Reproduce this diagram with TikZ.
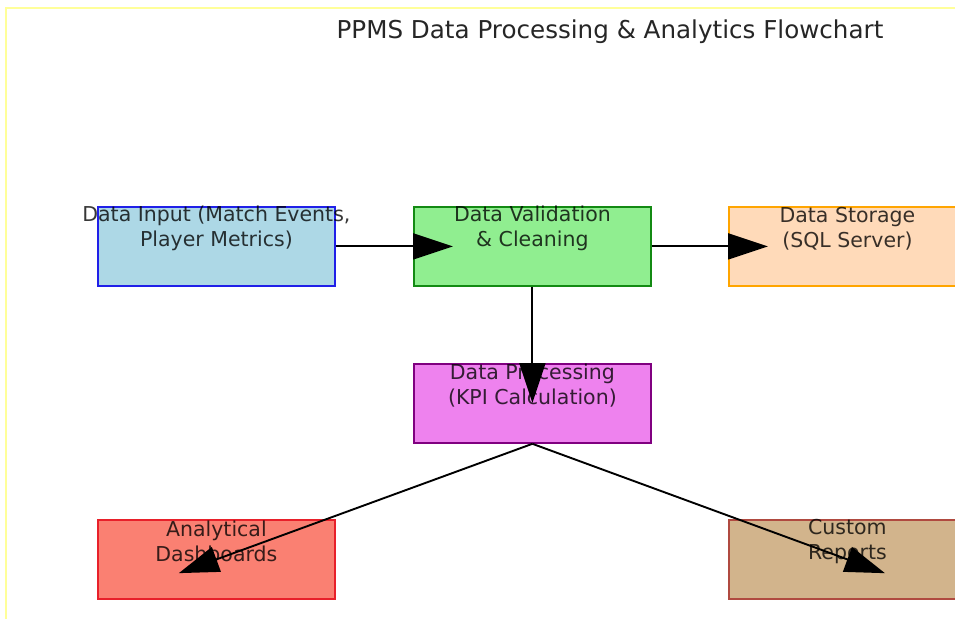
\documentclass[tikz,border=0pt]{standalone}
\usepackage{fontspec}
\setmainfont{DejaVu Sans}
\usetikzlibrary{arrows.meta,calc}
\definecolor{frameyel}{HTML}{FFFF99}
\definecolor{lblue}{HTML}{ADD8E6}
\definecolor{lgreen}{HTML}{90EE90}
\definecolor{peach}{HTML}{FFDAB9}
\definecolor{violetc}{HTML}{EE82EE}
\definecolor{salmonc}{HTML}{FA8072}
\definecolor{tanc}{HTML}{D2B48C}
\definecolor{bluee}{HTML}{2020E8}
\definecolor{greene}{HTML}{138A13}
\definecolor{orangee}{HTML}{FFA500}
\definecolor{purplee}{HTML}{800080}
\definecolor{rede}{HTML}{E8202A}
\definecolor{browne}{HTML}{B04A40}
\tikzset{
  box/.style={draw, line width=1.8pt, minimum width=237pt, minimum height=79pt, inner sep=0pt, anchor=north west},
  lbl/.style={align=center, font=\fontsize{20.5}{25}\selectfont, text=black, text opacity=0.78},
  arr/.style={line width=1.9pt, -{Triangle[length=40pt,width=26pt]}},
}
\begin{document}
\begin{tikzpicture}[x=1pt,y=-1pt]
\useasboundingbox (0,0) rectangle (955,618);
\clip (0,0) rectangle (955,618);
\fill[white] (0,0) rectangle (955,618);
\draw[frameyel, line width=1.5pt] (6,640) -- (6,8) -- (980,8);
\node[font=\fontsize{24.6}{28}\selectfont, text=black!85] (title) at (610,32) {PPMS Data Processing \& Analytics Flowchart};
\node[box, fill=lblue, draw=bluee] (b1) at (97,206) {};
\node[box, fill=lgreen, draw=greene] (b2) at (413,206) {};
\node[box, fill=peach, draw=orangee] (b3) at (728,206) {};
\node[box, fill=violetc, draw=purplee] (b4) at (413,363) {};
\node[box, fill=salmonc, draw=rede] (b5) at (97,519) {};
\node[box, fill=tanc, draw=browne] (b6) at (728,519) {};
\node[lbl] (t1) at ($(b1.center)+(0,-18)$) {Data Input (Match Events,\\Player Metrics)};
\node[lbl] (t2) at ($(b2.center)+(0,-18)$) {Data Validation\\\& Cleaning};
\node[lbl] (t3) at ($(b3.center)+(0,-18)$) {Data Storage\\(SQL Server)};
\node[lbl] (t4) at ($(b4.center)+(0,-18)$) {Data Processing\\(KPI Calculation)};
\node[lbl] (t5) at ($(b5.center)+(0,-18)$) {Analytical\\Dashboards};
\node[lbl] (t6) at ($(b6.center)+(0,-18)$) {Custom\\Reports};
\coordinate (e12) at ($(b2.west)!-40pt!(b1.east)$);
\coordinate (e23) at ($(b3.west)!-40pt!(b2.east)$);
\coordinate (e24) at ($(b4.north)!-40pt!(b2.south)$);
\coordinate (e45) at ($(b5.center)!-40pt!(b4.south)$);
\coordinate (e46) at ($(b6.center)!-40pt!(b4.south)$);
\draw[arr] (b1.east) -- (e12);
\draw[arr] (b2.east) -- (e23);
\draw[arr] (b2.south) -- (e24);
\draw[arr] (b4.south) -- (e45);
\draw[arr] (b4.south) -- (e46);
\end{tikzpicture}
\end{document}
